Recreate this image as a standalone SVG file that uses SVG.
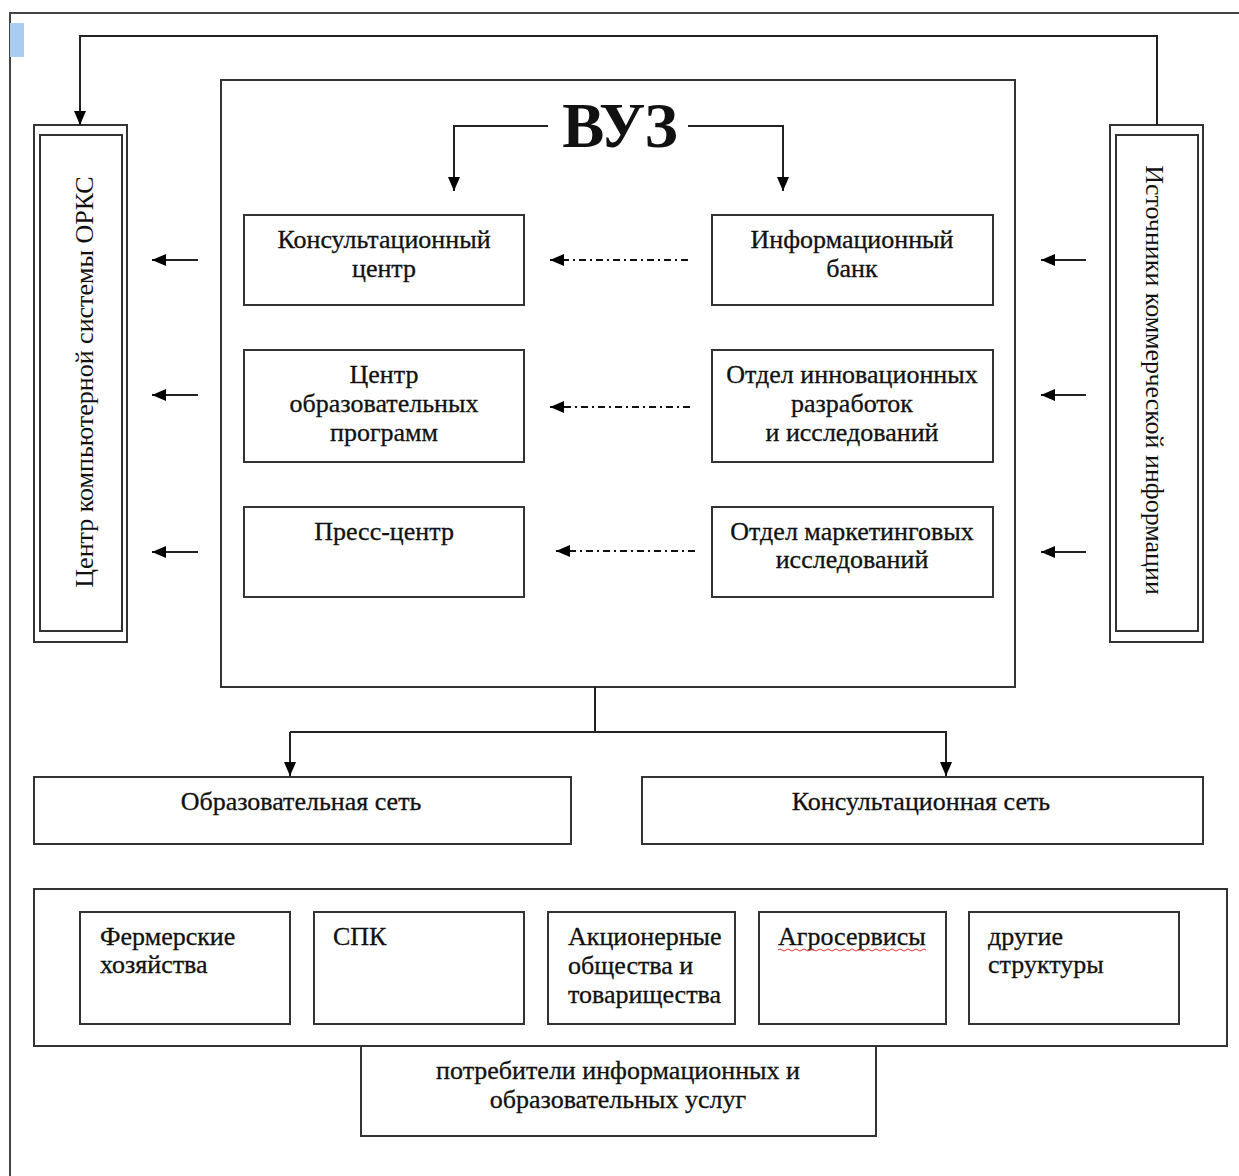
<svg xmlns="http://www.w3.org/2000/svg" width="1239" height="1176" viewBox="0 0 1239 1176">
<defs>
<marker id="ah" viewBox="0 0 14 12" refX="14" refY="6" markerWidth="14" markerHeight="12" markerUnits="userSpaceOnUse" orient="auto">
<path d="M0,0 L14,6 L0,12 Z" fill="#000"/>
</marker>
</defs>
<style>
.b{fill:#fff;stroke:#333;stroke-width:2}
.l{fill:none;stroke:#222;stroke-width:2}
.d{fill:none;stroke:#111;stroke-width:2;stroke-dasharray:7,4,2,4}
text{font-family:"Liberation Serif","Times New Roman",serif;font-size:26px;fill:#111;stroke:#111;stroke-width:0.3}
.c{text-anchor:middle}
.v{font-size:26px;stroke-width:0}
</style>
<rect width="1239" height="1176" fill="#fff"/>
<path d="M10,1176 V13 H1239" fill="none" stroke="#444" stroke-width="2"/>
<rect x="10" y="23" width="14" height="34" fill="#a9cdf1"/>

<g id="main"><rect class="b" x="221" y="80" width="794" height="607"/>
<text x="620" y="147" class="c" style="font-size:63px;font-weight:bold;stroke-width:0">ВУЗ</text></g>

<g id="left"><rect class="b" x="34" y="125" width="93" height="517"/><rect class="b" x="40" y="135" width="82" height="496"/>
<text class="c v" transform="translate(93,382) rotate(-90)">Центр компьютерной системы ОРКС</text></g>
<g id="right"><rect class="b" x="1110" y="125" width="93" height="517"/><rect class="b" x="1116" y="135" width="82" height="496"/>
<text class="c v" transform="translate(1146,380) rotate(90)">Источники коммерческой информации</text></g>

<g id="kc"><rect class="b" x="244" y="215" width="280" height="90"/><text class="c" x="384" y="248">Консультационный</text><text class="c" x="384" y="277">центр</text></g>
<g id="cop"><rect class="b" x="244" y="350" width="280" height="112"/><text class="c" x="384" y="383">Центр</text><text class="c" x="384" y="412">образовательных</text><text class="c" x="384" y="441">программ</text></g>
<g id="pc"><rect class="b" x="244" y="507" width="280" height="90"/><text class="c" x="384" y="540">Пресс-центр</text></g>
<g id="ib"><rect class="b" x="712" y="215" width="281" height="90"/><text class="c" x="852" y="248">Информационный</text><text class="c" x="852" y="277">банк</text></g>
<g id="oir"><rect class="b" x="712" y="350" width="281" height="112"/><text class="c" x="852" y="383">Отдел инновационных</text><text class="c" x="852" y="412">разработок</text><text class="c" x="852" y="441">и исследований</text></g>
<g id="omi"><rect class="b" x="712" y="507" width="281" height="90"/><text class="c" x="852" y="540">Отдел маркетинговых</text><text class="c" x="852" y="568">исследований</text></g>

<g id="os"><rect class="b" x="34" y="777" width="537" height="67"/><text class="c" x="301" y="810">Образовательная сеть</text></g>
<g id="ks"><rect class="b" x="642" y="777" width="561" height="67"/><text class="c" x="921" y="810">Консультационная сеть</text></g>

<g id="cons"><rect class="b" x="34" y="889" width="1193" height="157"/></g>
<g id="fh"><rect class="b" x="80" y="912" width="210" height="112"/><text x="100" y="945">Фермерские</text><text x="100" y="973">хозяйства</text></g>
<g id="spk"><rect class="b" x="314" y="912" width="210" height="112"/><text x="333" y="945">СПК</text></g>
<g id="ao"><rect class="b" x="548" y="912" width="187" height="112"/><text x="568" y="945">Акционерные</text><text x="568" y="974">общества и</text><text x="568" y="1003">товарищества</text></g>
<g id="as"><rect class="b" x="759" y="912" width="187" height="112"/><text x="778" y="945">Агросервисы</text>
<path d="M778,950 q2,-2 4,0 t4,0 t4,0 t4,0 t4,0 t4,0 t4,0 t4,0 t4,0 t4,0 t4,0 t4,0 t4,0 t4,0 t4,0 t4,0 t4,0 t4,0 t4,0 t4,0 t4,0 t4,0 t4,0 t4,0 t4,0 t4,0 t4,0 t4,0 t4,0 t4,0 t4,0 t4,0 t4,0 t4,0 t4,0 t4,0 t4,0" fill="none" stroke="#e03030" stroke-width="1"/></g>
<g id="ds"><rect class="b" x="969" y="912" width="210" height="112"/><text x="988" y="945">другие</text><text x="988" y="973">структуры</text></g>
<g id="pot"><rect class="b" x="361" y="1046" width="515" height="90"/><text class="c" x="618" y="1079">потребители информационных и</text><text class="c" x="618" y="1108">образовательных услуг</text></g>

<g id="connectors">
<path class="l" d="M1157,125 V36 H80 V125" marker-end="url(#ah)"/>
<path class="l" d="M548,126 H454 V191" marker-end="url(#ah)"/>
<path class="l" d="M688,126 H783 V191" marker-end="url(#ah)"/>
<path class="d" d="M688,260 H550" marker-end="url(#ah)"/>
<path class="d" d="M690,407 H550" marker-end="url(#ah)"/>
<path class="d" d="M695,551 H556" marker-end="url(#ah)"/>
<path class="l" d="M198,260 H152" marker-end="url(#ah)"/>
<path class="l" d="M198,395 H152" marker-end="url(#ah)"/>
<path class="l" d="M198,552 H152" marker-end="url(#ah)"/>
<path class="l" d="M1086,260 H1041" marker-end="url(#ah)"/>
<path class="l" d="M1086,395 H1041" marker-end="url(#ah)"/>
<path class="l" d="M1086,552 H1041" marker-end="url(#ah)"/>
<path class="l" d="M595,687 V732"/>
<path class="l" d="M290,732 V776" marker-end="url(#ah)"/>
<path class="l" d="M290,732 H946 V776" marker-end="url(#ah)"/>
</g>
</svg>
